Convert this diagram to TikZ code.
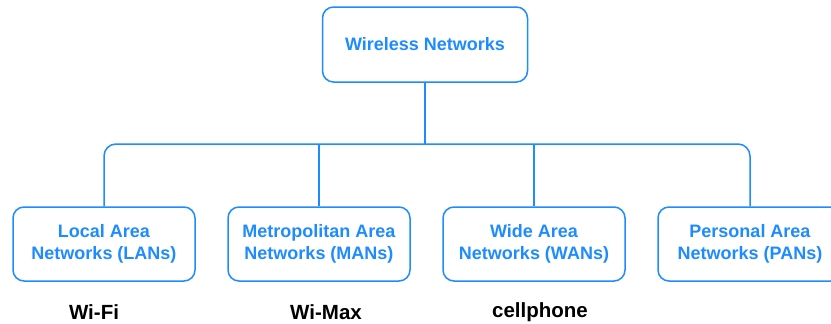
\documentclass[tikz,border=0pt]{standalone}
\usepackage{fontspec}
\setmainfont{Liberation Sans}
\definecolor{netblue}{RGB}{30,140,255}
\tikzset{
  netbox/.style={draw=netblue, line width=1.5pt, rounded corners=11pt, text=netblue,
    font=\fontsize{18}{22}\selectfont\bfseries, align=center, minimum height=74pt, inner sep=0pt},
  conn/.style={draw=netblue, line width=1.5pt},
  tag/.style={font=\fontsize{20.5}{24}\selectfont\bfseries, text=black, inner sep=0pt}
}
\begin{document}
\begin{tikzpicture}[x=1pt,y=-1pt]
\clip (0,0) rectangle (831,324);
\fill[white] (0,0) rectangle (831,324);
\node[netbox, minimum width=205pt, minimum height=75pt] (top) at (425,44.5) {Wireless Networks};
\node[netbox, minimum width=182pt] (lan) at (104,244) {Local Area\\Networks (LANs)};
\node[netbox, minimum width=182pt] (man) at (319,244) {Metropolitan Area\\Networks (MANs)};
\node[netbox, minimum width=182pt] (wan) at (534,244) {Wide Area\\Networks (WANs)};
\node[netbox, minimum width=184pt] (pan) at (750,244) {Personal Area\\Networks (PANs)};
\coordinate (bus) at (0,144);
\draw[conn, rounded corners=12pt] (lan.north) |- (bus -| pan.north) -- (pan.north);
\draw[conn] (top.south) -- (top.south |- bus);
\draw[conn] (man.north) -- (man.north |- bus);
\draw[conn] (wan.north) -- (wan.north |- bus);
\node[tag] (wifi) at (94,312) {Wi-Fi};
\node[tag] (wimax) at (326,312) {Wi-Max};
\node[tag] (cell) at (540,312) {cellphone};
\end{tikzpicture}
\end{document}
